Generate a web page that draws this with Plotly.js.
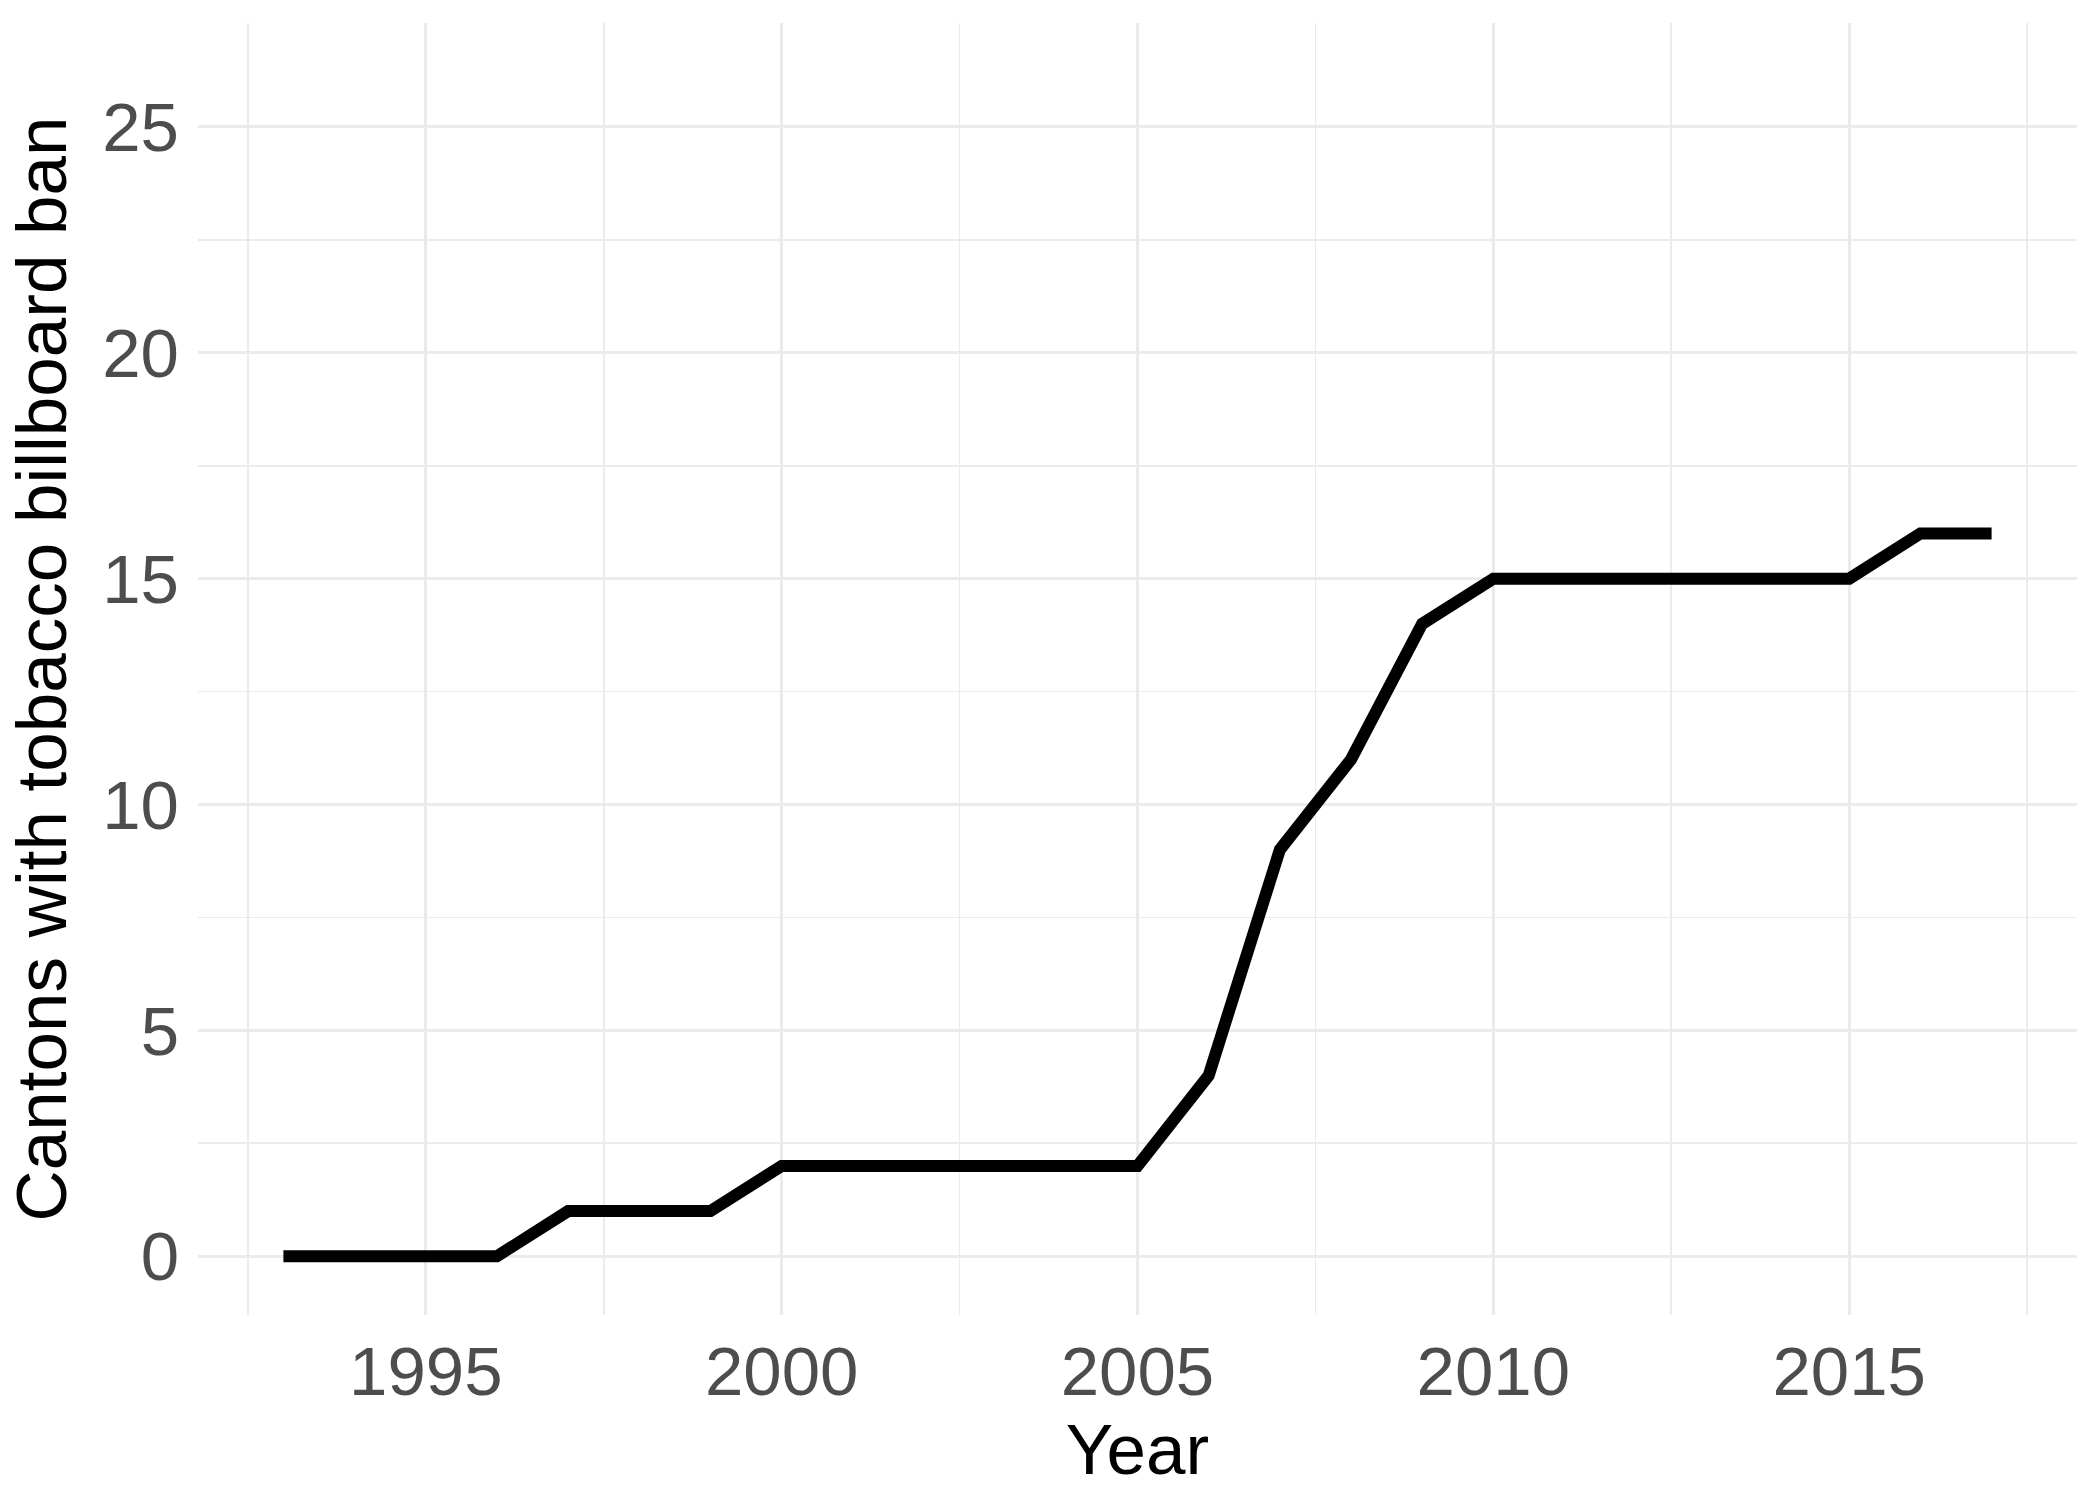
<!DOCTYPE html>
<html>
<head>
<meta charset="utf-8">
<script src="https://cdn.plot.ly/plotly-3.0.1.min.js"></script>
<style>
  html, body { margin: 0; padding: 0; background: #ffffff; }
  #chart { width: 2100px; height: 1500px; }
</style>
</head>
<body>
<div id="chart"></div>
<script>
const years = [1993, 1994, 1995, 1996, 1997, 1998, 1999, 2000, 2001, 2002, 2003, 2004, 2005,
               2006, 2007, 2008, 2009, 2010, 2011, 2012, 2013, 2014, 2015, 2016, 2017];
const cantonsWithBan = [0, 0, 0, 0, 1, 1, 1, 2, 2, 2, 2, 2, 2,
                        4, 9, 11, 14, 15, 15, 15, 15, 15, 15, 16, 16];
const xTickValues = [1995, 2000, 2005, 2010, 2015];
const yTickValues = [0, 5, 10, 15, 20, 25];
const xTitle = "Year";
const yTitle = "Cantons with tobacco billboard ban";

const gridMajor = "#EBEBEB";
const fontFamily = "Liberation Sans, Arial, sans-serif";

const trace = {
  x: years,
  y: cantonsWithBan,
  type: "scatter",
  mode: "lines",
  line: { color: "#000000", width: 12 },
  hoverinfo: "skip"
};

const layout = {
  width: 2100,
  height: 1500,
  paper_bgcolor: "#ffffff",
  plot_bgcolor: "#ffffff",
  showlegend: false,
  margin: { l: 198, r: 23, t: 23, b: 185 },
  font: { family: fontFamily },
  xaxis: {
    range: [1991.8, 2018.2],
    tickmode: "array",
    tickvals: xTickValues,
    ticktext: xTickValues.map(String),
    ticks: "",
    showline: false,
    zeroline: false,
    showgrid: true,
    gridcolor: gridMajor,
    gridwidth: 3,
    minor: { dtick: 2.5, tick0: 1992.5, showgrid: true, gridcolor: gridMajor, gridwidth: 1.8, ticks: "" },
    tickfont: { family: fontFamily, size: 69, color: "#4D4D4D" },
    ticklabelstandoff: 10,
    automargin: true,
    title: { text: xTitle, font: { family: fontFamily, size: 71, color: "#000000" }, standoff: 4 }
  },
  yaxis: {
    range: [-1.3, 27.3],
    tickmode: "array",
    tickvals: yTickValues,
    ticktext: yTickValues.map(String),
    ticks: "",
    showline: false,
    zeroline: false,
    showgrid: true,
    gridcolor: gridMajor,
    gridwidth: 3,
    minor: { dtick: 2.5, tick0: 0, showgrid: true, gridcolor: gridMajor, gridwidth: 1.8, ticks: "" },
    tickfont: { family: fontFamily, size: 69, color: "#4D4D4D" },
    ticklabelstandoff: 18,
    automargin: false,
    title: { text: yTitle, font: { family: fontFamily, size: 71, color: "#000000" }, standoff: 12 }
  }
};

Plotly.newPlot("chart", [trace], layout, { displayModeBar: false, staticPlot: true });
</script>
</body>
</html>
